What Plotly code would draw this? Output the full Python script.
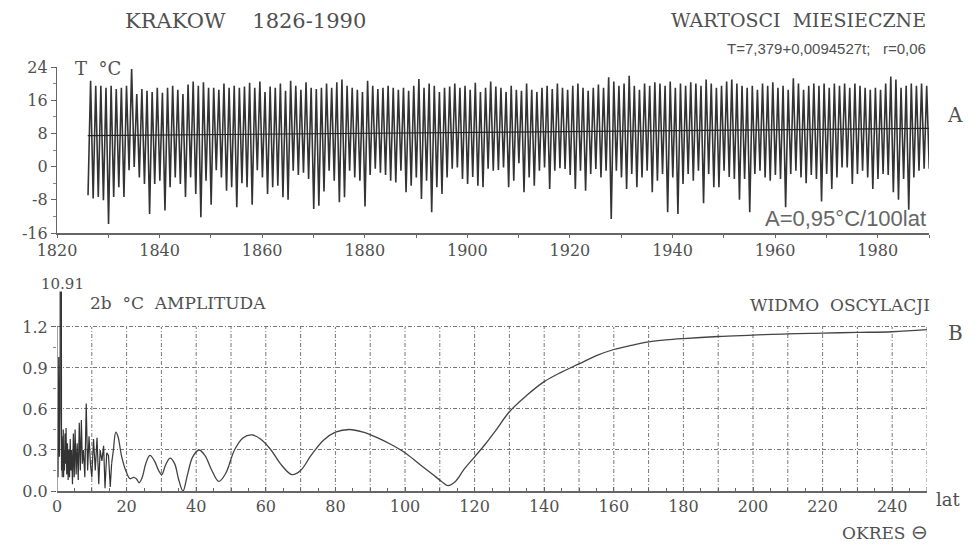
import plotly.graph_objects as go

# ---------------- DATA ----------------
years = list(range(1826, 1991))
winter_min = [
    -6.9, -7.7, -7.3, -8.1, -13.8, -7.3, -5.0, -7.3, -0.9, -0.1,   # 1826-1835
    -2.6, -4.2, -11.4, -4.2, -3.4, -10.6, -5.0, -2.6, -4.2, -7.3,  # 1836-1845
    -2.6, -6.6, -12.2, -3.4, -9.2, -0.9, -2.6, -5.8, -5.0, -9.8,   # 1846-1855
    -4.0, -5.0, -9.2, -0.9, -2.6, -6.6, -5.0, -4.6, -7.4, -8.0,    # 1856-1865
    -1.0, -2.0, -1.5, -3.0, -10.2, -9.4, -6.0, -1.0, -3.4, -8.6,   # 1866-1875
    -7.4, -1.0, -2.6, -3.4, -9.6, -2.0, -0.5, -1.5, -2.0, -3.4,    # 1876-1885
    -3.8, -1.0, -6.2, -4.6, -2.6, -7.8, -3.4, -11.0, -5.0, -6.6,   # 1886-1895
    -2.6, -0.5, -0.2, -3.0, -4.2, -2.5, -4.6, -5.0, -0.5, -1.0,    # 1896-1905
    -0.8, -0.2, -5.0, -3.4, 0.8, -6.2, -2.6, -4.6, -1.0, -0.2,     # 1906-1915
    -5.4, -1.0, -0.4, -0.6, -2.0, -5.4, -1.0, -5.8, -1.8, -0.6,    # 1916-1925
    -2.6, -1.0, -12.6, -1.0, -2.6, -5.4, -1.8, -5.0, -2.6, -1.0,   # 1926-1935
    -6.2, -3.4, -1.8, -11.0, -2.6, -11.4, -4.2, -1.8, -3.4, -1.0,  # 1936-1945
    -8.8, -1.8, -5.0, -5.0, -1.0, -2.5, -3.0, -8.0, -3.0, -11.0,   # 1946-1955
    -1.8, -1.0, -2.6, -3.4, -2.0, -3.0, -9.8, -1.8, -1.0, -2.6,    # 1956-1965
    -4.0, -2.0, -3.0, -8.4, -1.8, -5.4, -2.6, -0.2, -0.2, -4.2,    # 1966-1975
    -1.8, -1.0, -2.6, -5.4, -3.0, -1.8, -2.0, -6.2, -8.0, -3.0,    # 1976-1985
    -10.4, -2.6, -1.0, -0.5, -0.5,                                  # 1986-1990
]
summer_max = [
    20.7, 19.5, 19.5, 19.0, 19.5, 18.7, 19.0, 19.5, 23.5, 17.5,    # 1826-1835
    18.7, 18.3, 18.0, 19.0, 17.8, 19.0, 19.5, 18.5, 17.5, 19.8,    # 1836-1845
    20.5, 19.5, 20.3, 19.0, 19.0, 18.5, 20.0, 19.0, 19.5, 19.0,    # 1846-1855
    19.3, 20.2, 19.0, 20.5, 18.0, 19.3, 19.0, 20.0, 18.3, 20.7,    # 1856-1865
    19.5, 18.5, 20.3, 19.0, 18.7, 19.0, 20.0, 19.0, 20.3, 21.0,    # 1866-1875
    19.5, 19.0, 18.5, 18.0, 20.7, 19.5, 18.7, 19.0, 19.5, 19.0,    # 1876-1885
    18.5, 19.0, 18.3, 19.5, 21.1, 19.0, 20.0, 19.5, 18.0, 19.0,    # 1886-1895
    19.3, 20.0, 19.0, 19.5, 18.5, 20.2, 18.0, 19.0, 20.5, 19.3,    # 1896-1905
    19.0, 18.0, 19.5, 18.5, 18.3, 20.0, 18.5, 18.0, 19.0, 19.5,    # 1906-1915
    18.7, 20.0, 19.0, 18.5, 19.5, 20.0, 19.0, 18.3, 19.0, 19.8,    # 1916-1925
    19.0, 21.5, 20.5, 19.5, 20.0, 21.9, 19.5, 18.5, 20.0, 19.5,    # 1926-1935
    20.3, 20.0, 19.5, 20.5, 19.0, 20.0, 19.5, 20.3, 20.0, 19.5,    # 1936-1945
    21.0, 20.0, 19.0, 19.5, 20.5, 21.0, 20.0, 19.5, 19.0, 19.5,    # 1946-1955
    18.5, 20.0, 19.5, 20.3, 19.0, 19.5, 18.5, 21.3, 20.0, 18.5,    # 1956-1965
    19.5, 20.0, 19.5, 20.0, 19.0, 20.0, 19.5, 20.0, 19.0, 20.0,    # 1966-1975
    19.5, 19.0, 18.5, 19.0, 18.5, 20.0, 21.7, 21.0, 19.0, 19.5,    # 1976-1985
    20.0, 19.5, 20.0, 19.5, 20.5,                                   # 1986-1990
]
last_december = 0.5
trend_years = [1826, 1990]
trend_values = [7.45, 9.2]

# noisy short-period part of the spectrum (periods up to ~16 years)
noise_period = [
    0.3, 0.5, 0.7, 0.9, 1.0, 1.08, 1.15, 1.2, 1.3, 1.4, 1.5, 1.6, 1.7, 1.8, 1.9, 2.0,
    2.15, 2.3, 2.45, 2.6, 2.8, 3.0, 3.2, 3.4, 3.6, 3.8, 4.0, 4.2, 4.45, 4.7, 4.95,
    5.2, 5.5, 5.8, 6.1, 6.4, 6.7, 7.0, 7.3, 7.6, 8.0, 8.4, 8.8, 9.2, 9.6, 10.0,
    10.5, 11.0, 11.5, 12.0, 12.4, 12.9, 13.4, 13.8, 14.3, 14.8, 15.3, 15.7,
]
noise_amp = [
    0.1, 0.98, 0.25, 0.6, 10.91, 0.7, 0.2, 0.3, 0.15, 0.4, 0.1, 0.35, 0.2, 0.45, 0.1, 0.3,
    0.15, 0.42, 0.2, 0.46, 0.12, 0.35, 0.08, 0.3, 0.1, 0.38, 0.15, 0.3, 0.05, 0.42, 0.1,
    0.45, 0.12, 0.35, 0.08, 0.5, 0.15, 0.52, 0.2, 0.3, 0.1, 0.64, 0.15, 0.4, 0.2, 0.1,
    0.38, 0.15, 0.39, 0.05, 0.3, 0.22, 0.33, 0.02, 0.28, 0.26, 0.03, 0.2,
]
# smooth long-period part of the spectrum
smooth_period = [
    15.7, 16.2, 16.9, 17.5, 18.6, 19.9, 21.0, 22.0, 22.8, 23.6, 24.5, 25.5, 26.7, 28.0,
    29.2, 30.1, 31.2, 32.5, 33.8, 35.0, 36.2, 37.5, 39.0, 40.8, 42.5, 44.5, 46.5,
    48.5, 51.0, 53.5, 56.0, 58.5, 61.5, 64.5, 67.5, 70.0, 73.0, 76.5, 80.0, 84.0,
    88.0, 92.0, 96.0, 100.0, 104.0, 108.0, 110.5, 112.3, 114.5, 117.0, 120.0,
    123.0, 126.0, 130.0, 135.0, 140.0, 145.0, 150.0, 155.0, 160.0, 165.0, 170.0,
    175.0, 180.0, 190.0, 200.0, 210.0, 220.0, 230.0, 240.0, 250.0,
]
smooth_amp = [
    0.2, 0.3, 0.43, 0.40, 0.25, 0.14, 0.09, 0.10, 0.09, 0.06, 0.10, 0.20, 0.26, 0.22,
    0.15, 0.12, 0.19, 0.24, 0.20, 0.08, 0.0, 0.12, 0.25, 0.30, 0.26, 0.15, 0.07,
    0.13, 0.30, 0.39, 0.41, 0.38, 0.30, 0.19, 0.12, 0.15, 0.26, 0.37, 0.43, 0.45,
    0.43, 0.39, 0.34, 0.28, 0.20, 0.12, 0.07, 0.04, 0.07, 0.16, 0.25,
    0.34, 0.44, 0.58, 0.70, 0.80, 0.87, 0.93, 0.99, 1.035, 1.065, 1.09,
    1.105, 1.115, 1.13, 1.14, 1.15, 1.155, 1.16, 1.165, 1.18,
]

top_ticks = [1820, 1840, 1860, 1880, 1900, 1920, 1940, 1960, 1980]
top_yticks = [-16, -8, 0, 8, 16, 24]
top_ytext = ["-16", "-8", "0", "8", "16", "24"]
bot_xticks = list(range(0, 251, 20))
bot_yticks = [0.0, 0.3, 0.6, 0.9, 1.2]
bot_ytext = ["0.0", "0.3", "0.6", "0.9", "1.2"]
grid_periods = list(range(10, 251, 10))

# ---------------- FIGURE ----------------
W, H = 978, 550
TXT = "#505050"
LINE = "#333333"
SERIF = "DejaVu Serif"
SANS = "Liberation Sans"

ts_x, ts_y = [], []
for i, yr in enumerate(years):
    ts_x += [yr + 0.05, yr + 0.55]
    ts_y += [winter_min[i], summer_max[i]]
ts_x.append(years[-1] + 0.95)
ts_y.append(last_december)

fig = go.Figure()
fig.add_trace(go.Scatter(x=ts_x, y=ts_y, mode="lines", line=dict(color=LINE, width=1.6),
                         xaxis="x", yaxis="y", showlegend=False, hoverinfo="skip"))
fig.add_trace(go.Scatter(x=trend_years, y=trend_values, mode="lines",
                         line=dict(color="#222222", width=1.2),
                         xaxis="x", yaxis="y", showlegend=False))
fig.add_trace(go.Scatter(x=noise_period, y=noise_amp, mode="lines",
                         line=dict(color=LINE, width=1.2),
                         xaxis="x2", yaxis="y2", showlegend=False))
fig.add_trace(go.Scatter(x=smooth_period, y=smooth_amp, mode="lines",
                         line=dict(color="#444444", width=1.3, shape="spline", smoothing=1.0),
                         xaxis="x2", yaxis="y2", showlegend=False))

def px(x):
    return x / W

def py(y):
    return 1 - y / H

tickfont = dict(family=SERIF, size=16, color=TXT)

fig.update_layout(
    width=W, height=H, margin=dict(l=0, r=0, t=0, b=0, autoexpand=False),
    paper_bgcolor="white", plot_bgcolor="white",
    xaxis=dict(domain=[px(57), px(929)], range=[1820, 1990], anchor="y", automargin=False,
               tickvals=top_ticks, ticks="outside", ticklen=2, tickcolor="#666",
               minor=dict(dtick=10, tick0=1820, ticks="outside", ticklen=3, tickcolor="#666"),
               showline=True, linecolor="#666", linewidth=1.5, showgrid=False,
               zeroline=False, tickfont=tickfont),
    yaxis=dict(domain=[py(233), py(67)], range=[-16, 24], anchor="x", automargin=False,
               tickvals=top_yticks, ticktext=top_ytext, ticks="outside", ticklen=5,
               tickcolor="#666",
               minor=dict(dtick=4, tick0=-16, ticks="outside", ticklen=3, tickcolor="#888"),
               showline=True, linecolor="#666", linewidth=1.2, showgrid=False,
               zeroline=False, tickfont=tickfont),
    xaxis2=dict(domain=[px(57), px(927)], range=[0, 250], anchor="y2", automargin=False,
                tickvals=bot_xticks, ticks="inside", ticklen=4, tickcolor="#666",
                minor=dict(dtick=5, tick0=0, ticks="inside", ticklen=3, tickcolor="#666"),
                showline=True, linecolor="#666", linewidth=1.5, showgrid=False,
                zeroline=False, tickfont=tickfont),
    yaxis2=dict(domain=[py(491), py(291.4)], range=[0, 1.46], anchor="x2", automargin=False,
                tickvals=bot_yticks, ticktext=bot_ytext, ticks="outside", ticklen=5,
                tickcolor="#666",
                minor=dict(tickvals=[0.15, 0.45, 0.75, 1.05], ticks="outside", ticklen=3,
                           tickcolor="#888"),
                showline=False, showgrid=True, gridcolor="#777", gridwidth=1,
                griddash="4px,2px,1px,2px", zeroline=False, tickfont=tickfont),
)

shapes = []
for v in grid_periods:
    shapes.append(dict(type="line", xref="x2", yref="y2", x0=v, x1=v, y0=0, y1=1.2,
                       line=dict(color="#777", width=1, dash="4px,2px,1px,2px"), layer="below"))
shapes.append(dict(type="line", xref="x2", yref="y2", x0=0, x1=0, y0=0, y1=1.2,
                   line=dict(color="#666", width=1.2)))
fig.update_layout(shapes=shapes)

def ann(text, x, y, xanchor="left", size=18, family=SERIF, color=TXT):
    fig.add_annotation(text=text, x=px(x), y=py(y), xref="paper", yref="paper",
                       xanchor=xanchor, yanchor="middle", showarrow=False,
                       font=dict(family=family, size=size, color=color))

ann("KRAKOW    1826-1990", 123, 21, size=21)
ann("WARTOSCI  MIESIECZNE", 928, 20, xanchor="right", size=19)
ann("T=7,379+0,0094527t;&nbsp;&nbsp;&nbsp;r=0,06", 928, 48, xanchor="right", size=15, family=SANS)
ann("T  °C", 73, 68, size=18)
ann("A", 955, 115, xanchor="center", size=20)
ann("A=0,95°C/100lat", 928, 218, xanchor="right", size=22, family=SANS, color="#666")
ann("10.91", 62, 284, xanchor="center", size=15)
ann("2b  °C  AMPLITUDA", 88, 303, size=17)
ann("WIDMO  OSCYLACJI", 932, 305, xanchor="right", size=17)
ann("B", 955, 333, xanchor="center", size=20)
ann("lat", 934, 499, size=18)
ann("OKRES", 908, 533, xanchor="right", size=17)
ann("⊖", 930, 532, xanchor="right", size=20, family="DejaVu Sans")

fig.write_html("out.html")
